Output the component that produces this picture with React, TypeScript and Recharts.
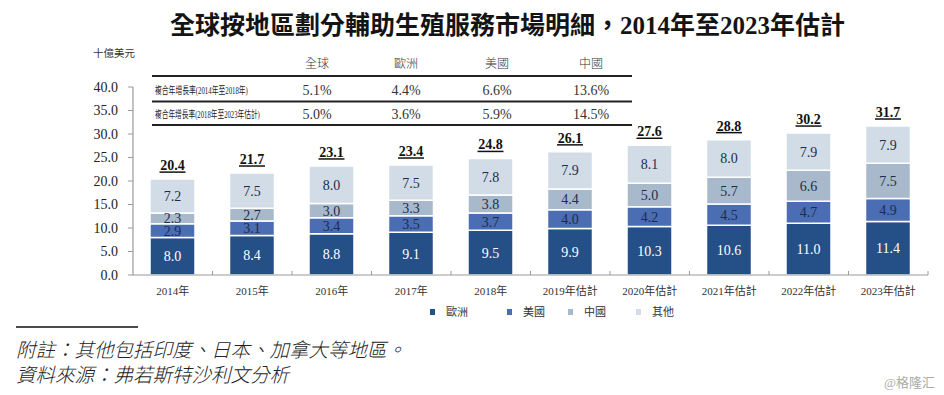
import React from 'react';
import { BarChart, Bar, XAxis, YAxis, LabelList } from 'recharts';

const years = ['2014年', '2015年', '2016年', '2017年', '2018年', '2019年估計', '2020年估計', '2021年估計', '2022年估計', '2023年估計'];
const europe = [8.0, 8.4, 8.8, 9.1, 9.5, 9.9, 10.3, 10.6, 11.0, 11.4];
const usa = [2.9, 3.1, 3.4, 3.5, 3.7, 4.0, 4.2, 4.5, 4.7, 4.9];
const china = [2.3, 2.7, 3.0, 3.3, 3.8, 4.4, 5.0, 5.7, 6.6, 7.5];
const others = [7.2, 7.5, 8.0, 7.5, 7.8, 7.9, 8.1, 8.0, 7.9, 7.9];
const totals = [20.4, 21.7, 23.1, 23.4, 24.8, 26.1, 27.6, 28.8, 30.2, 31.7];
const yTicks = [0, 5, 10, 15, 20, 25, 30, 35, 40];

const cagrRegions = ['全球', '歐洲', '美國', '中國'];
const cagrRowLabels = ['複合年增長率(2014年至2018年)', '複合年增長率(2018年至2023年估計)'];
const cagr2014to2018 = ['5.1%', '4.4%', '6.6%', '13.6%'];
const cagr2018to2023 = ['5.0%', '3.6%', '5.9%', '14.5%'];

const title = '全球按地區劃分輔助生殖服務市場明細，2014年至2023年估計';
const unitLabel = '十億美元';
const notes = ['附註：其他包括印度、日本、加拿大等地區。', '資料來源：弗若斯特沙利文分析'];
const watermark = '@格隆汇';

const series = [
  { key: 'europe', name: '歐洲', color: '#254f87', text: '#ffffff' },
  { key: 'usa', name: '美國', color: '#4a6db3', text: '#1e2c4c' },
  { key: 'china', name: '中國', color: '#a8b9cc', text: '#1e2c4c' },
  { key: 'others', name: '其他', color: '#d2dce7', text: '#1e2c4c' },
];

const data = years.map((year, i) => ({
  year,
  europe: europe[i],
  usa: usa[i],
  china: china[i],
  others: others[i],
  total: totals[i],
}));

const FONT = "'Liberation Serif', 'Noto Sans CJK TC', serif";
const W = 944;
const H = 395;
const MARGIN = { top: 87, right: 16, bottom: 90, left: 93 };
const Y_AXIS_W = 40;
const X_AXIS_H = 30;
const PLOT_LEFT = MARGIN.left + Y_AXIS_W;
const BAND = (W - PLOT_LEFT - MARGIN.right) / years.length;
const X_TICK_MARGIN = 16;

const XTick = (props: any) => {
  const { x, y, payload } = props;
  const axisY = y - X_TICK_MARGIN;
  return (
    <g>
      <line x1={x + BAND / 2} x2={x + BAND / 2} y1={axisY} y2={axisY - 4} stroke="#9a9a9a" strokeWidth={1} />
      <text x={x} y={y} textAnchor="middle" dominantBaseline="central" fontSize={11} fill="#333" fontFamily={FONT}>
        {payload.value}
      </text>
    </g>
  );
};

const TotalLabel = (props: any) => {
  const { x, y, width, value } = props;
  const cx = Number(x) + Number(width) / 2;
  const top = Number(y);
  return (
    <g>
      <text x={cx} y={top - 9} textAnchor="middle" fontSize={14} fontWeight="bold" fill="#111" fontFamily={FONT}>
        {Number(value).toFixed(1)}
      </text>
      <line x1={cx - 13} x2={cx + 13} y1={top - 7} y2={top - 7} stroke="#111" strokeWidth={1.5} />
    </g>
  );
};

const legendX = [430, 507, 568, 636];

export default function App() {
  const colX = [317, 406, 497, 591];
  return (
    <div style={{ position: 'absolute', left: 0, top: 0, width: W, height: H, background: '#fff', fontFamily: FONT }}>
      <BarChart width={W} height={H} data={data} margin={MARGIN}>
        <XAxis
          dataKey="year"
          height={X_AXIS_H}
          interval={0}
          tickSize={0}
          tickMargin={X_TICK_MARGIN}
          tickLine={false}
          axisLine={{ stroke: '#9a9a9a', strokeWidth: 1.2 }}
          tick={<XTick />}
        />
        <YAxis
          width={Y_AXIS_W}
          domain={[0, 40]}
          ticks={yTicks}
          interval={0}
          tickFormatter={(v: number) => v.toFixed(1)}
          tickSize={5}
          tickMargin={10}
          axisLine={{ stroke: '#9a9a9a', strokeWidth: 1.2 }}
          tickLine={{ stroke: '#9a9a9a' }}
          tick={{ fontSize: 14, fill: '#222', fontFamily: FONT }}
        />
        {series.map((s, si) => (
          <Bar
            key={s.key}
            dataKey={s.key}
            name={s.name}
            stackId="a"
            fill={s.color}
            stroke="#ffffff"
            strokeWidth={1.5}
            barSize={45}
            isAnimationActive={false}
          >
            <LabelList
              dataKey={s.key}
              position="center"
              fill={s.text}
              fontSize={14}
              fontFamily={FONT}
              formatter={(v: any) => Number(v).toFixed(1)}
            />
            {si === series.length - 1 ? <LabelList dataKey="total" content={<TotalLabel />} /> : null}
          </Bar>
        ))}
      </BarChart>
      <svg
        width={W}
        height={H}
        style={{ position: 'absolute', left: 0, top: 0, pointerEvents: 'none', fontFamily: FONT }}
      >
        <text x={170} y={25} dominantBaseline="central" fontSize={25} fontWeight="bold" fill="#141414">
          {title}
        </text>
        <text x={93} y={53} dominantBaseline="central" fontSize={10.5} fill="#333">
          {unitLabel}
        </text>
        {cagrRegions.map((r, i) => (
          <text key={r} x={colX[i]} y={64} textAnchor="middle" dominantBaseline="central" fontSize={12} fontWeight={300} fill="#333">
            {r}
          </text>
        ))}
        <line x1={152} x2={632} y1={76} y2={76} stroke="#222" strokeWidth={2} />
        <line x1={152} x2={632} y1={101.5} y2={101.5} stroke="#222" strokeWidth={2} />
        <line x1={152} x2={632} y1={125} y2={125} stroke="#222" strokeWidth={2} />
        <text transform="translate(155,90) scale(0.68,1)" x={0} y={0} dominantBaseline="central" fontSize={10} fill="#222">
          {cagrRowLabels[0]}
        </text>
        <text transform="translate(155,114) scale(0.67,1)" x={0} y={0} dominantBaseline="central" fontSize={10} fill="#222">
          {cagrRowLabels[1]}
        </text>
        {cagr2014to2018.map((v, i) => (
          <text key={'a' + i} x={colX[i]} y={90} textAnchor="middle" dominantBaseline="central" fontSize={14} fill="#333">
            {v}
          </text>
        ))}
        {cagr2018to2023.map((v, i) => (
          <text key={'b' + i} x={colX[i]} y={114} textAnchor="middle" dominantBaseline="central" fontSize={14} fill="#333">
            {v}
          </text>
        ))}
        {series.map((s, i) => (
          <g key={s.key}>
            <rect x={legendX[i]} y={309} width={5} height={6} fill={s.color} />
            <text x={legendX[i] + 16} y={312} dominantBaseline="central" fontSize={11} fill="#333">
              {s.name}
            </text>
          </g>
        ))}
        <line x1={16} x2={138} y1={327} y2={327} stroke="#111" strokeWidth={1.5} />
        {notes.map((n, i) => (
          <text key={n} x={16} y={350 + i * 25} dominantBaseline="central" fontSize={19.5} fontStyle="italic" fontWeight={300} fill="#222">
            {n}
          </text>
        ))}
        <text x={935} y={382} textAnchor="end" dominantBaseline="central" fontSize={13} fill="#aaa">
          {watermark}
        </text>
      </svg>
    </div>
  );
}
